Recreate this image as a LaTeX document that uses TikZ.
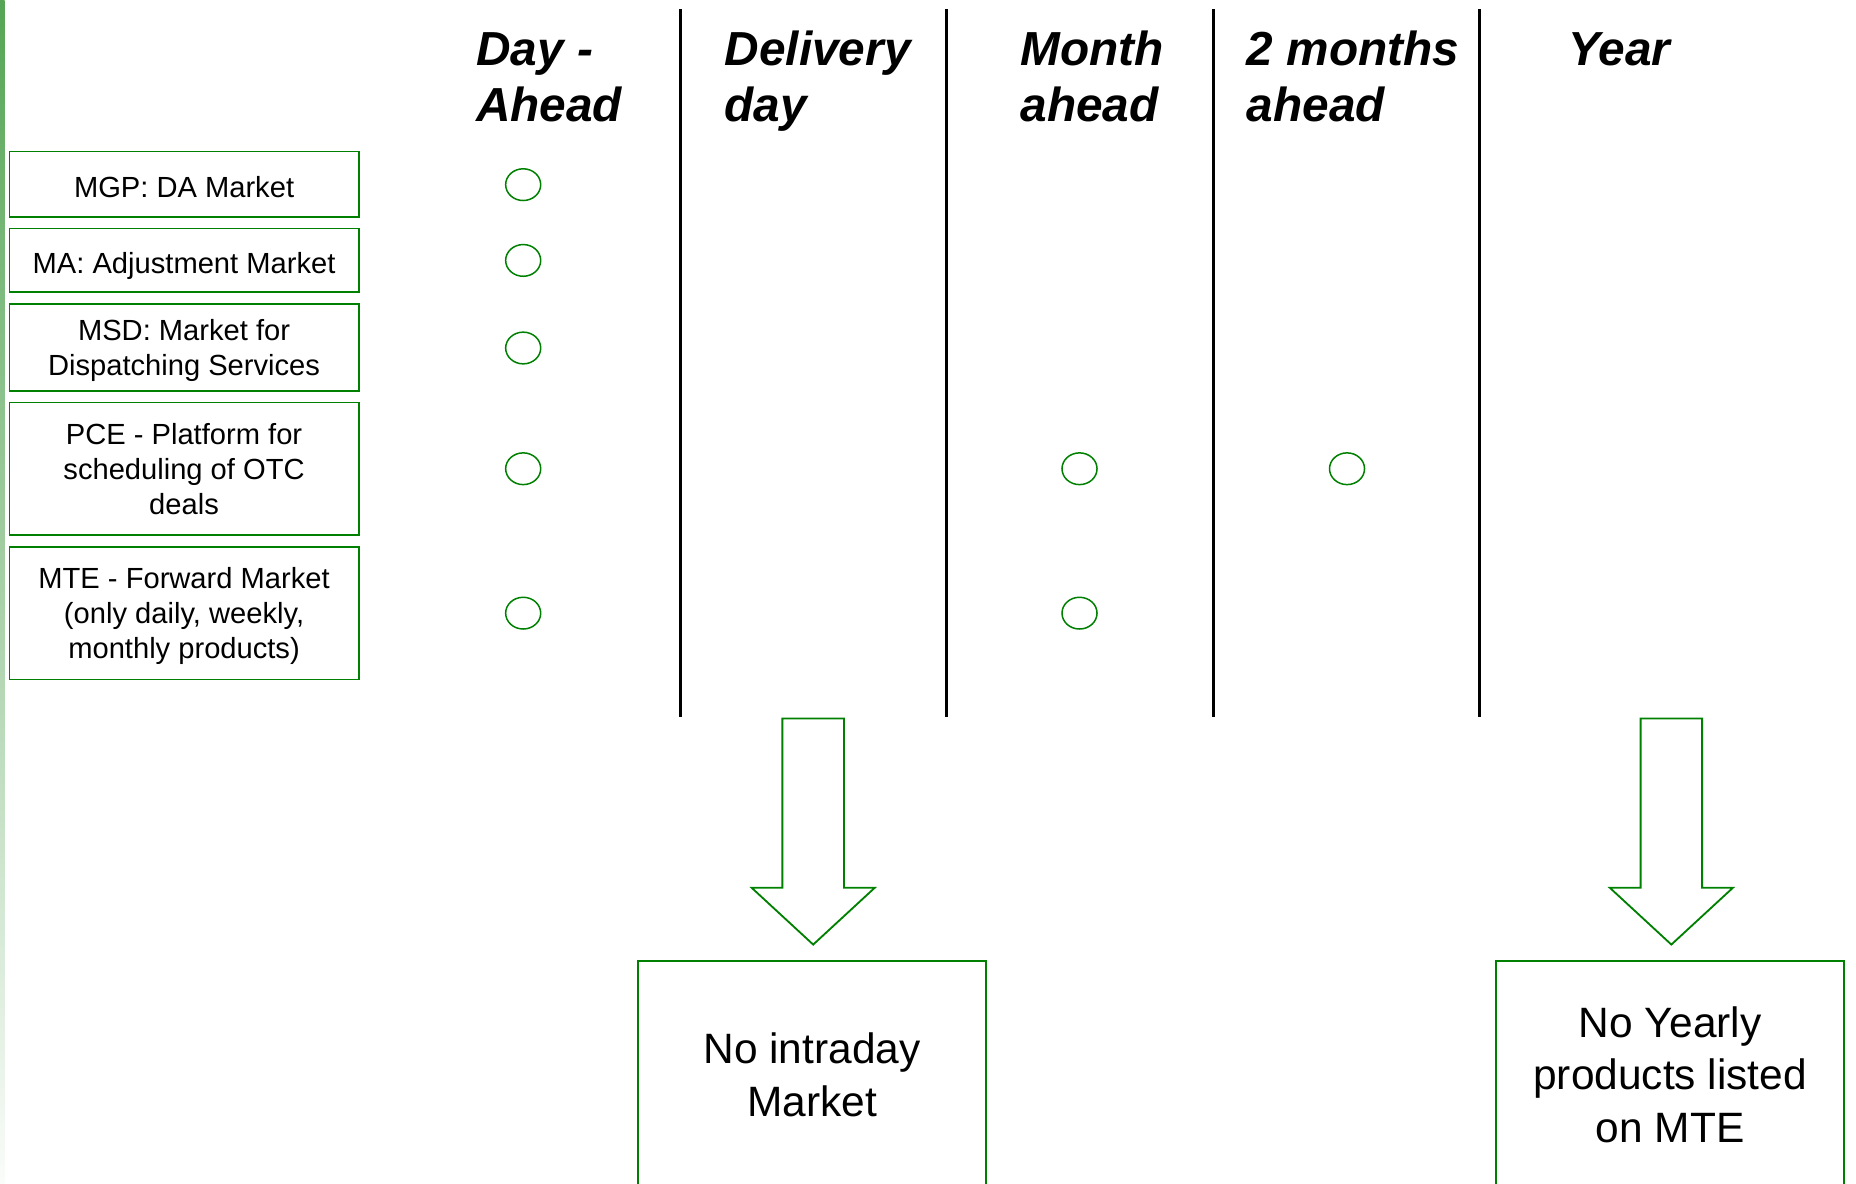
\documentclass[tikz,border=0pt]{standalone}
\usepackage{fontspec}
\setmainfont{Liberation Sans}
\usetikzlibrary{shapes.geometric,positioning}
\definecolor{mktgreen}{RGB}{0,128,0}

\begin{document}
\begin{tikzpicture}[x=0.025cm, y=-0.025cm,
    mkt/.style={draw=mktgreen, line width=1.1pt, minimum width=7.375cm, inner sep=0pt, text depth=-2.5pt, align=center, font=\fontsize{17.5}{21}\selectfont},
    mktone/.style={mkt, text height=0.57cm, text depth=0pt},
    dot/.style={ellipse, draw=mktgreen, line width=0.9pt, minimum width=0.74cm, minimum height=0.67cm, inner sep=0pt},
    hdr/.style={anchor=base west, inner sep=0pt, align=left, font=\fontsize{28.7}{34}\selectfont\bfseries\itshape},
    note/.style={draw=mktgreen, line width=1.1pt, minimum width=7.35cm, minimum height=4.8cm, align=center, font=\fontsize{25.5}{31.3}\selectfont}]
    \useasboundingbox (0,0) rectangle (1568,1000);
    \shade[top color={rgb,255:red,85;green,165;blue,85}, bottom color={rgb,255:red,250;green,252;blue,250}] (0,0) rectangle (4,1000);

    % column headers
    \node (hda) at (402,103) [hdr] {Day -\\Ahead};
    \node (hdd) at (612,103) [hdr] {Delivery\\day};
    \node (hma) at (862,103) [hdr] {Month\\ahead};
    \node (h2m) at (1053,103) [hdr] {2 months\\ahead};
    \node (hyr) at (1325,55) [hdr] {Year};
    \foreach \x in {575,800,1025,1250}
        \draw[line width=1.8pt] (\x,8) -- (\x,606);

    % markets
    \node (mgp) at (155.5,155.5) [mktone, minimum height=1.375cm] {MGP: DA Market};
    \node (ma)  at (155.5,220)   [mktone, minimum height=1.35cm] {MA: Adjustment Market};
    \node (msd) at (155.5,293.5) [mkt, minimum height=1.825cm] {MSD: Market for\\Dispatching Services};
    \node (pce) at (155.5,396)   [mkt, minimum height=2.8cm] {PCE - Platform for\\scheduling of OTC\\deals};
    \node (mte) at (155.5,518)   [mkt, minimum height=2.8cm] {MTE - Forward Market\\(only daily, weekly,\\monthly products)};

    % availability marks
    \foreach \y/\n in {156/mgp,220/ma,294/msd,396/pce,518/mte}
        \node (da\n) at (442,\y) [dot] {};
    \node (mopce) at (912,396) [dot] {};
    \node (momte) at (912,518) [dot] {};
    \node (twpce) at (1138,396) [dot] {};

    % block arrows and notes
    \foreach \c in {687,1412}
        \draw[mktgreen, line width=1.1pt, line join=miter] (\c-26,607) -- (\c+26,607) -- (\c+26,750) -- (\c+52,750)
            -- (\c,798) -- (\c-52,750) -- (\c-26,750) -- cycle;
    \node (nid) at (686,908) [note] {No intraday\\Market};
    \node (nyr) at (1411,908) [note] {No Yearly\\products listed\\on MTE};
\end{tikzpicture}
\end{document}
